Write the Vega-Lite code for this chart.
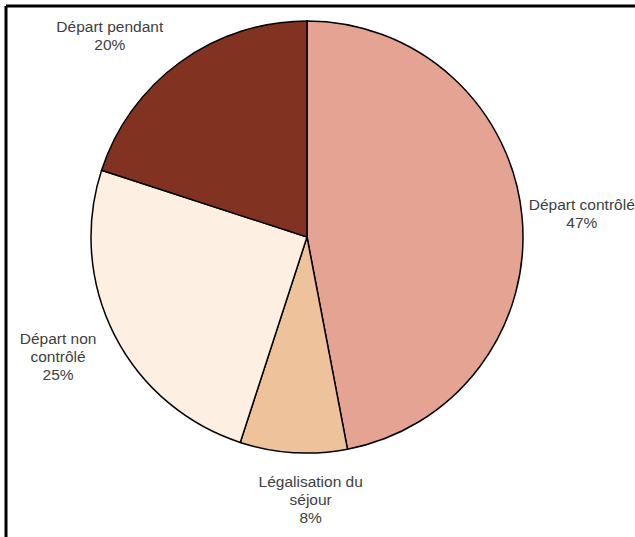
{
  "$schema": "https://vega.github.io/schema/vega-lite/v6.json",
  "width": 629,
  "height": 531,
  "autosize": "none",
  "padding": {"left": 6, "top": 6, "right": 0, "bottom": 0},
  "background": "white",
  "config": {
    "view": {"stroke": null},
    "text": {"font": "Liberation Sans", "fontSize": 15.5, "lineHeight": 18, "color": "#404040", "align": "center", "baseline": "middle", "lineBreak": "\n"}
  },
  "data": {
    "values": [
      {"categorie": "Départ contrôlé", "part": 47, "rang": 1, "label": "Départ contrôlé\n47%"},
      {"categorie": "Légalisation du séjour", "part": 8, "rang": 2, "label": "Légalisation du\nséjour\n8%"},
      {"categorie": "Départ non contrôlé", "part": 25, "rang": 3, "label": "Départ non\ncontrôlé\n25%"},
      {"categorie": "Départ pendant", "part": 20, "rang": 4, "label": "Départ pendant\n20%"}
    ]
  },
  "encoding": {
    "theta": {"field": "part", "type": "quantitative", "stack": true},
    "order": {"field": "rang", "type": "quantitative"}
  },
  "layer": [
    {
      "mark": {"type": "arc", "outerRadius": 216, "x": 301, "y": 231, "stroke": "black", "strokeWidth": 1.5},
      "encoding": {
        "color": {
          "field": "categorie",
          "type": "nominal",
          "legend": null,
          "scale": {
            "domain": ["Départ contrôlé", "Légalisation du séjour", "Départ non contrôlé", "Départ pendant"],
            "range": ["#E4A393", "#EEC39B", "#FEEFE3", "#823221"]
          }
        }
      }
    },
    {
      "mark": {"type": "text", "radius": 276, "x": 301, "y": 231, "dy": -6},
      "encoding": {"text": {"condition": {"test": "datum.rang == 1", "field": "label"}, "value": ""}}
    },
    {
      "mark": {"type": "text", "radius": 276, "x": 301, "y": 231, "dx": 21, "dy": -30},
      "encoding": {"text": {"condition": {"test": "datum.rang == 2", "field": "label"}, "value": ""}}
    },
    {
      "mark": {"type": "text", "radius": 276, "x": 301, "y": 231, "dx": -3, "dy": -23},
      "encoding": {"text": {"condition": {"test": "datum.rang == 3", "field": "label"}, "value": ""}}
    },
    {
      "mark": {"type": "text", "radius": 276, "x": 301, "y": 231, "dx": -35, "dy": 13},
      "encoding": {"text": {"condition": {"test": "datum.rang == 4", "field": "label"}, "value": ""}}
    },
    {
      "data": {"values": [{}]},
      "mark": {"type": "rule", "color": "black", "strokeWidth": 3},
      "encoding": {"x": {"value": 0}}
    },
    {
      "data": {"values": [{}]},
      "mark": {"type": "rule", "color": "black", "strokeWidth": 3},
      "encoding": {"y": {"value": 0}}
    }
  ]
}
